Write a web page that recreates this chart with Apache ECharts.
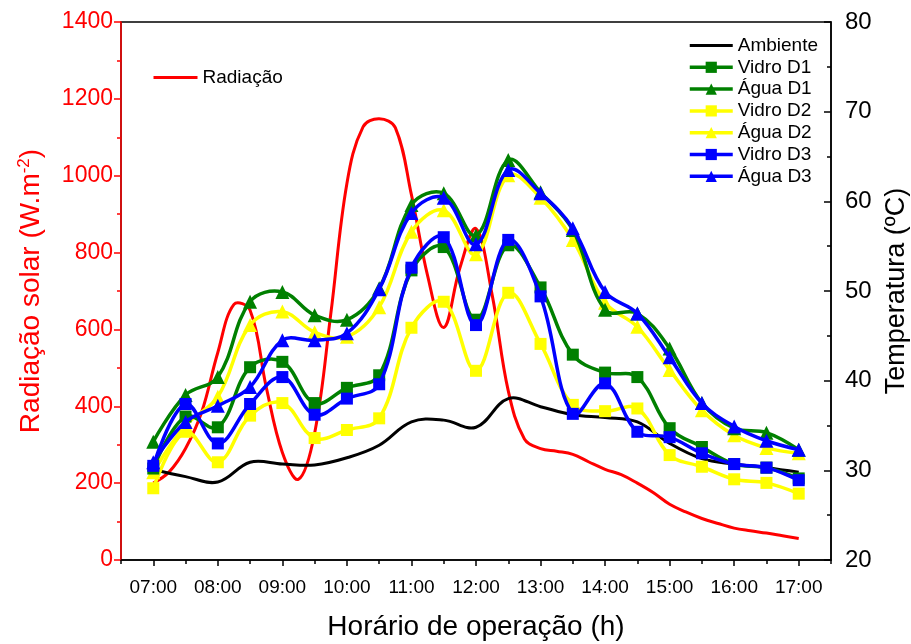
<!DOCTYPE html>
<html lang="pt">
<head>
<meta charset="UTF-8">
<title>Radiação e temperatura</title>
<script src="https://cdn.jsdelivr.net/npm/echarts@6.0.0/dist/echarts.min.js"></script>
<style>
  html, body { margin: 0; padding: 0; background: #fff; }
</style>
</head>
<body>
<div id="main" style="width: 911px; height: 644px;"></div>
<script>
// horários das medições (h)
var horas = [7, 7.5, 8, 8.5, 9, 9.5, 10, 10.5, 11, 11.5, 12, 12.5, 13, 13.5, 14, 14.5, 15, 15.5, 16, 16.5, 17];
var rotulosHora = [7, 8, 9, 10, 11, 12, 13, 14, 15, 16, 17];
var meiasHoras = [6.5, 7.5, 8.5, 9.5, 10.5, 11.5, 12.5, 13.5, 14.5, 15.5, 16.5, 17.5];

// temperaturas (ºC)
var ambiente = [30.1, 29.3, 28.7, 30.9, 30.7, 30.6, 31.4, 32.8, 35.4, 35.6, 34.8, 38.0, 37.1, 36.2, 35.9, 35.4, 33.0, 31.3, 30.7, 30.3, 29.8];
var vidroD1  = [30.2, 36.0, 34.8, 41.5, 42.1, 37.5, 39.2, 40.6, 52.3, 54.9, 46.8, 55.1, 50.4, 42.9, 40.9, 40.4, 34.7, 32.6, 30.7, 30.3, 29.1];
var aguaD1   = [33.2, 38.4, 40.4, 48.8, 49.9, 47.3, 46.8, 50.3, 59.6, 60.9, 56.2, 64.6, 61.0, 56.8, 47.9, 47.5, 43.6, 37.5, 34.7, 34.2, 32.3];
var vidroD2  = [28.0, 34.3, 30.9, 36.1, 37.5, 33.6, 34.5, 35.8, 45.9, 48.8, 41.1, 49.8, 44.1, 37.3, 36.6, 36.9, 31.7, 30.4, 29.0, 28.6, 27.4];
var aguaD2   = [29.8, 35.0, 38.2, 46.2, 47.7, 45.4, 44.9, 48.2, 56.6, 59.0, 54.1, 62.9, 60.4, 55.7, 48.7, 46.0, 41.2, 36.7, 33.9, 32.5, 31.9];
var vidroD3  = [30.5, 37.4, 33.0, 37.4, 40.4, 36.2, 38.0, 39.6, 52.6, 56.0, 46.2, 55.7, 49.4, 36.3, 39.7, 34.3, 33.7, 31.9, 30.7, 30.3, 28.9];
var aguaD3   = [30.9, 35.4, 37.2, 39.3, 44.5, 44.5, 45.3, 50.2, 58.7, 60.4, 55.2, 63.5, 60.9, 57.0, 49.9, 47.5, 42.6, 37.5, 34.9, 33.3, 32.3];

// radiação solar (W/m2), lida a cada 15 min
var horasRad = [7, 7.25, 7.5, 7.75, 8, 8.25, 8.5, 8.75, 9, 9.25, 9.5, 9.75, 10, 10.25, 10.5, 10.75, 11, 11.25, 11.5, 11.75, 12,
                12.25, 12.5, 12.75, 13, 13.25, 13.5, 13.75, 14, 14.25, 14.5, 14.75, 15, 15.25, 15.5, 15.75, 16, 16.25, 16.5, 16.75, 17];
var radiacao = [200, 230, 290, 385, 540, 665, 650, 450, 280, 210, 330, 640, 980, 1127, 1148, 1125, 950, 740, 605, 760, 862,
                690, 440, 315, 290, 283, 275, 255, 236, 222, 200, 175, 145, 125, 108, 95, 83, 76, 70, 63, 56];

var fonte = 'Liberation Sans, Arial, sans-serif';

function pares(xs, ys) {
    return xs.map(function (x, i) { return [x, ys[i]]; });
}

// curva suave (spline sem restrição) desenhada pelas coordenadas do eixo
function curva(xs, ys, cor, largura, eixoY, z) {
    return {
        type: 'custom',
        xAxisIndex: 0,
        yAxisIndex: eixoY,
        data: [[xs[0], ys[0]]],
        z: z,
        silent: true,
        renderItem: function (params, api) {
            var pts = xs.map(function (x, i) { return api.coord([x, ys[i]]); });
            return {
                type: 'polyline',
                shape: { points: pts, smooth: 0.38 },
                style: { fill: null, stroke: cor, lineWidth: largura, lineJoin: 'round' }
            };
        }
    };
}

// marcadores + entrada da legenda (a linha fica por conta da curva)
function marcadores(nome, xs, ys, cor, simbolo, eixoY, z) {
    return {
        name: nome,
        type: 'line',
        xAxisIndex: 0,
        yAxisIndex: eixoY,
        data: pares(xs, ys),
        symbol: simbolo,
        symbolSize: simbolo === 'triangle' ? 14 : 12,
        showAllSymbol: true,
        lineStyle: { color: cor, width: 3.5, opacity: 0 },
        itemStyle: { color: cor },
        z: z
    };
}

function itemLegenda(nome, largura, semSimbolo) {
    var item = { name: nome, lineStyle: { opacity: 1, width: largura } };
    if (semSimbolo) item.itemStyle = { opacity: 0 };
    return item;
}

var chart = echarts.init(document.getElementById('main'));

var option = {
    animation: false,
    textStyle: { fontFamily: fonte },
    grid: {
        left: 121, right: 80, top: 22, bottom: 84,
        outerBoundsMode: 'none', containLabel: false,
        show: true, borderColor: '#000', borderWidth: 1.5
    },
    legend: [
        {
            data: [itemLegenda('Radiação', 3, true)],
            left: 147, top: 63,
            itemWidth: 44, itemHeight: 14,
            textStyle: { fontFamily: fonte, fontSize: 19, color: '#000' }
        },
        {
            data: [
                itemLegenda('Ambiente', 3, true),
                itemLegenda('Vidro D1', 3.5), itemLegenda('Água D1', 3.5),
                itemLegenda('Vidro D2', 3.5), itemLegenda('Água D2', 3.5),
                itemLegenda('Vidro D3', 3.5), itemLegenda('Água D3', 3.5)
            ],
            orient: 'vertical',
            left: 683, top: 31,
            itemWidth: 43, itemHeight: 14, itemGap: 2.8,
            textStyle: { fontFamily: fonte, fontSize: 19, color: '#000' }
        }
    ],
    xAxis: [
        {
            type: 'value', min: 6.5, max: 17.5,
            name: 'Horário de operação (h)',
            nameLocation: 'middle', nameGap: 53,
            nameTextStyle: { fontFamily: fonte, fontSize: 28, color: '#000' },
            axisLine: { lineStyle: { color: '#000', width: 1.5 } },
            axisTick: { customValues: rotulosHora, length: 6, lineStyle: { color: '#000', width: 1.5 } },
            axisLabel: {
                customValues: rotulosHora,
                fontFamily: fonte, fontSize: 19, color: '#000', margin: 18,
                formatter: function (v) { return (v < 10 ? '0' : '') + v + ':00'; }
            },
            splitLine: { show: false }
        },
        {
            type: 'value', min: 6.5, max: 17.5, position: 'bottom', offset: 0,
            axisLine: { show: false },
            axisTick: { customValues: meiasHoras, length: 4, lineStyle: { color: '#000', width: 1.5 } },
            axisLabel: { show: false },
            splitLine: { show: false }
        }
    ],
    yAxis: [
        {
            type: 'value', min: 0, max: 1400, interval: 200,
            name: 'Radiação solar (W.m{sup|-2})',
            nameLocation: 'middle', nameGap: 74,
            nameTextStyle: {
                fontFamily: fonte, fontSize: 28, color: '#ff0000',
                rich: { sup: { fontFamily: fonte, fontSize: 17, color: '#ff0000', padding: [0, 0, 14, 0] } }
            },
            axisLine: { show: true, lineStyle: { color: '#ff0000', width: 1.5 } },
            axisTick: { show: true, length: 7, lineStyle: { color: '#ff0000', width: 1.5 } },
            minorTick: { show: true, splitNumber: 2, length: 4, lineStyle: { color: '#ff0000', width: 1.5 } },
            axisLabel: {
                fontFamily: fonte, fontSize: 23, color: '#ff0000', margin: 8,
                formatter: function (v) { return String(v); }
            },
            splitLine: { show: false }
        },
        {
            type: 'value', min: 20, max: 80, interval: 10, position: 'right',
            name: 'Temperatura (ºC)',
            nameLocation: 'middle', nameGap: 52,
            nameTextStyle: { fontFamily: fonte, fontSize: 27, color: '#000' },
            axisLine: { show: true, lineStyle: { color: '#000', width: 1.5 } },
            axisTick: { show: true, inside: true, length: 7, lineStyle: { color: '#000', width: 1.5 } },
            minorTick: { show: true, splitNumber: 2, length: 4, lineStyle: { color: '#000', width: 1.5 } },
            axisLabel: { fontFamily: fonte, fontSize: 24, color: '#000', margin: 14 },
            splitLine: { show: false }
        }
    ],
    series: [
        curva(horasRad, radiacao, '#ff0000', 3, 0, 2),
        marcadores('Radiação', horasRad, radiacao, '#ff0000', 'none', 0, 2),
        curva(horas, ambiente, '#000000', 3, 1, 2),
        marcadores('Ambiente', horas, ambiente, '#000000', 'none', 1, 2),
        curva(horas, vidroD2, '#ffff00', 3.5, 1, 3),
        marcadores('Vidro D2', horas, vidroD2, '#ffff00', 'rect', 1, 4),
        curva(horas, aguaD2, '#ffff00', 3.5, 1, 3),
        marcadores('Água D2', horas, aguaD2, '#ffff00', 'triangle', 1, 4),
        curva(horas, vidroD1, '#008000', 3.5, 1, 5),
        marcadores('Vidro D1', horas, vidroD1, '#008000', 'rect', 1, 6),
        curva(horas, aguaD1, '#008000', 3.5, 1, 5),
        marcadores('Água D1', horas, aguaD1, '#008000', 'triangle', 1, 6),
        curva(horas, vidroD3, '#0000ff', 3.5, 1, 7),
        marcadores('Vidro D3', horas, vidroD3, '#0000ff', 'rect', 1, 8),
        curva(horas, aguaD3, '#0000ff', 3.5, 1, 7),
        marcadores('Água D3', horas, aguaD3, '#0000ff', 'triangle', 1, 8)
    ]
};

chart.setOption(option);
</script>
</body>
</html>
